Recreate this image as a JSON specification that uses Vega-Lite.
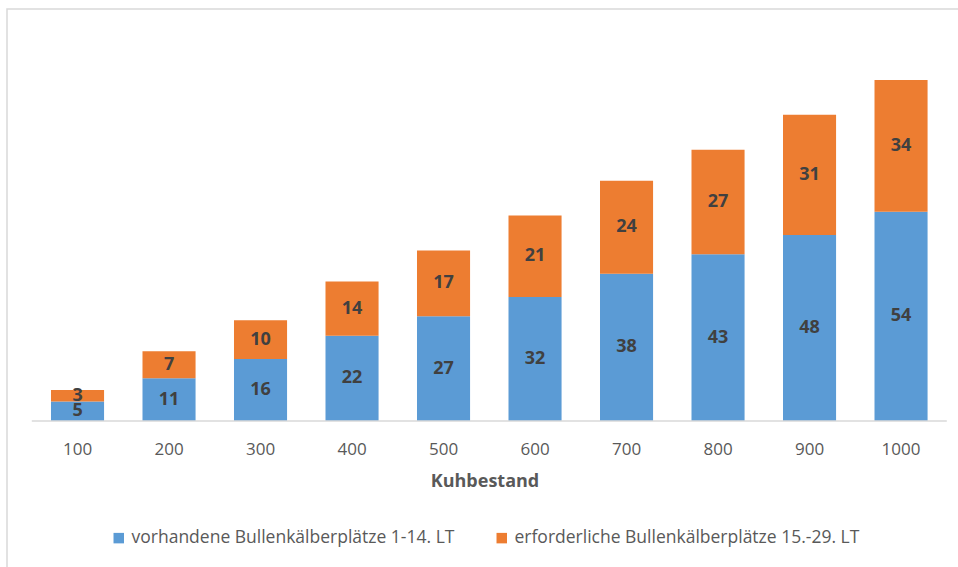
{
  "$schema": "https://vega.github.io/schema/vega-lite/v6.json",
  "width": 955,
  "height": 560,
  "autosize": {"type": "none"},
  "padding": {"left": 7, "top": 9, "right": 0, "bottom": 0},
  "background": "white",
  "config": {
    "view": {"stroke": "#d9d9d9", "strokeWidth": 1.5},
    "font": "Open Sans"
  },
  "layer": [
    {
      "data": {
        "values": [
          {"bestand": "100", "serie": "vorhandene Bullenkälberplätze 1-14. LT", "wert": 5, "ord": 1},
          {"bestand": "100", "serie": "erforderliche Bullenkälberplätze 15.-29. LT", "wert": 3, "ord": 2},
          {"bestand": "200", "serie": "vorhandene Bullenkälberplätze 1-14. LT", "wert": 11, "ord": 1},
          {"bestand": "200", "serie": "erforderliche Bullenkälberplätze 15.-29. LT", "wert": 7, "ord": 2},
          {"bestand": "300", "serie": "vorhandene Bullenkälberplätze 1-14. LT", "wert": 16, "ord": 1},
          {"bestand": "300", "serie": "erforderliche Bullenkälberplätze 15.-29. LT", "wert": 10, "ord": 2},
          {"bestand": "400", "serie": "vorhandene Bullenkälberplätze 1-14. LT", "wert": 22, "ord": 1},
          {"bestand": "400", "serie": "erforderliche Bullenkälberplätze 15.-29. LT", "wert": 14, "ord": 2},
          {"bestand": "500", "serie": "vorhandene Bullenkälberplätze 1-14. LT", "wert": 27, "ord": 1},
          {"bestand": "500", "serie": "erforderliche Bullenkälberplätze 15.-29. LT", "wert": 17, "ord": 2},
          {"bestand": "600", "serie": "vorhandene Bullenkälberplätze 1-14. LT", "wert": 32, "ord": 1},
          {"bestand": "600", "serie": "erforderliche Bullenkälberplätze 15.-29. LT", "wert": 21, "ord": 2},
          {"bestand": "700", "serie": "vorhandene Bullenkälberplätze 1-14. LT", "wert": 38, "ord": 1},
          {"bestand": "700", "serie": "erforderliche Bullenkälberplätze 15.-29. LT", "wert": 24, "ord": 2},
          {"bestand": "800", "serie": "vorhandene Bullenkälberplätze 1-14. LT", "wert": 43, "ord": 1},
          {"bestand": "800", "serie": "erforderliche Bullenkälberplätze 15.-29. LT", "wert": 27, "ord": 2},
          {"bestand": "900", "serie": "vorhandene Bullenkälberplätze 1-14. LT", "wert": 48, "ord": 1},
          {"bestand": "900", "serie": "erforderliche Bullenkälberplätze 15.-29. LT", "wert": 31, "ord": 2},
          {"bestand": "1000", "serie": "vorhandene Bullenkälberplätze 1-14. LT", "wert": 54, "ord": 1},
          {"bestand": "1000", "serie": "erforderliche Bullenkälberplätze 15.-29. LT", "wert": 34, "ord": 2}
        ]
      },
      "transform": [
        {"stack": "wert", "groupby": ["bestand"], "sort": [{"field": "ord"}], "as": ["y0", "y1"]},
        {"calculate": "(datum.y0 + datum.y1) / 2", "as": "ym"}
      ],
      "encoding": {
        "x": {
          "field": "bestand",
          "type": "ordinal",
          "scale": {
            "domain": ["100", "200", "300", "400", "500", "600", "700", "800", "900", "1000"],
            "paddingInner": 0.42,
            "paddingOuter": 0.4285,
            "align": 0.561
          },
          "axis": {
            "title": "Kuhbestand",
            "domain": false,
            "ticks": false,
            "offset": -148,
            "labelAngle": 0,
            "labelPadding": 20,
            "labelFontSize": 17,
            "labelColor": "#595959",
            "titleFontSize": 18,
            "titleFontWeight": "bold",
            "titleColor": "#595959",
            "titlePadding": 15
          }
        }
      },
      "layer": [
        {
          "mark": {"type": "bar"},
          "encoding": {
            "y": {
              "field": "y0",
              "type": "quantitative",
              "scale": {"domain": [-38.2, 106.3], "nice": false, "zero": false},
              "axis": null
            },
            "y2": {"field": "y1"},
            "color": {
              "field": "serie",
              "type": "nominal",
              "sort": ["vorhandene Bullenkälberplätze 1-14. LT", "erforderliche Bullenkälberplätze 15.-29. LT"],
              "scale": {"range": ["#5B9BD5", "#ED7D31"]},
              "legend": {
                "title": null,
                "orient": "none",
                "direction": "horizontal",
                "legendX": 103,
                "legendY": 520,
                "symbolType": "square",
                "symbolSize": 110,
                "symbolStrokeWidth": 0,
                "symbolOpacity": 1,
                "labelFontSize": 17.5,
                "labelColor": "#595959",
                "columnPadding": 38,
                "labelLimit": 500
              }
            }
          }
        },
        {
          "mark": {"type": "text", "fontSize": 18, "fontWeight": "bold", "color": "#404040", "baseline": "middle", "align": "center"},
          "encoding": {
            "y": {"field": "ym", "type": "quantitative"},
            "text": {"field": "wert", "type": "quantitative"}
          }
        }
      ]
    },
    {
      "data": {"values": [{"bestand": "100", "bis": "1000", "null": 0}]},
      "mark": {"type": "rule", "color": "#d9d9d9", "strokeWidth": 1.5},
      "encoding": {
        "x": {"field": "bestand", "type": "ordinal", "bandPosition": -0.362},
        "x2": {"field": "bis", "bandPosition": 1.362},
        "y": {"field": "null", "type": "quantitative"}
      }
    }
  ]
}
